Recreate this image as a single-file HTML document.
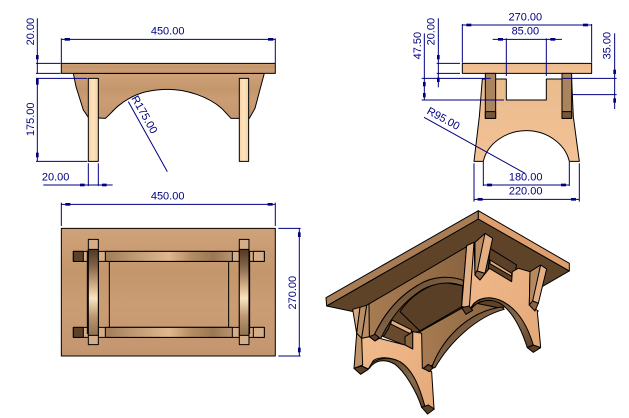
<!DOCTYPE html>
<html><head><meta charset="utf-8"><style>
html,body{margin:0;padding:0;background:#fff;width:629px;height:418px;overflow:hidden}
svg{display:block}
text{font-family:"Liberation Sans",sans-serif;font-size:33px;fill:#000080;text-anchor:middle}
.d line{stroke:#000080;stroke-width:3}
.d rect{fill:#000080}
.k *{stroke:#000;stroke-width:3;stroke-linejoin:round}
</style></head><body>
<svg width="629" height="418" viewBox="0 0 629 418" xmlns="http://www.w3.org/2000/svg">
<defs>
<linearGradient id="w1" x1="0" y1="0" x2="0" y2="1"><stop offset="0" stop-color="#d0a27a"/><stop offset=".35" stop-color="#c4966c"/><stop offset=".6" stop-color="#cb9d74"/><stop offset="1" stop-color="#c49670"/></linearGradient>
<linearGradient id="w2" x1="0" y1="0" x2="0" y2="1"><stop offset="0" stop-color="#e9bb8d"/><stop offset="1" stop-color="#f3c296"/></linearGradient>
<linearGradient id="leg" x1="0" y1="0" x2="1" y2="0"><stop offset="0" stop-color="#f6d3a6"/><stop offset=".5" stop-color="#ffe4bd"/><stop offset="1" stop-color="#f2cfa2"/></linearGradient>
<linearGradient id="v1" x1="0" y1="0" x2="0" y2="1"><stop offset="0" stop-color="#50381f"/><stop offset=".2" stop-color="#86654a"/><stop offset=".45" stop-color="#dcb990"/><stop offset=".57" stop-color="#fbe4c2"/><stop offset=".78" stop-color="#bc9670"/><stop offset="1" stop-color="#90704f"/></linearGradient>
<linearGradient id="h1" x1="0" y1="0" x2="1" y2="0"><stop offset="0" stop-color="#a07c58"/><stop offset=".2" stop-color="#bb9670"/><stop offset=".5" stop-color="#e0b88e"/><stop offset=".68" stop-color="#b48c62"/><stop offset=".85" stop-color="#9a7854"/><stop offset="1" stop-color="#b89270"/></linearGradient>
<linearGradient id="p1" x1="0" y1="0" x2="1" y2="1"><stop offset="0" stop-color="#f2bc8e"/><stop offset="1" stop-color="#e4a878"/></linearGradient>
<linearGradient id="b1" x1="0" y1="0" x2="1" y2="0"><stop offset="0" stop-color="#a87c52"/><stop offset="1" stop-color="#8a6440"/></linearGradient>
<linearGradient id="a1" x1="0" y1="0" x2="1" y2="1"><stop offset="0" stop-color="#5a3e24"/><stop offset=".6" stop-color="#8a6a4c"/><stop offset="1" stop-color="#5c4028"/></linearGradient>
</defs>

<!-- FRONT VIEW -->
<g transform="scale(.3333)">
<g class="k">
<path fill="url(#w1)" d="M220,220 L228,260 L250,330 L265,352 L316,355 C330,345 350,315 385,297 C420,275 460,268 505,268 C560,268 625,290 665,325 L693,355 L748,355 L765,325 L793,220 Z"/>
<rect x="184" y="190" width="642" height="30" fill="url(#w1)"/>
<rect x="265" y="235" width="30" height="249" fill="url(#leg)"/>
<rect x="718" y="235" width="28" height="249" fill="url(#leg)"/>
</g>
<g class="d">
<line x1="112" y1="55" x2="112" y2="220"/><line x1="112" y1="235" x2="112" y2="484"/>
<line x1="108" y1="190" x2="182" y2="190"/><line x1="108" y1="220" x2="182" y2="220"/>
<line x1="108" y1="235" x2="262" y2="235"/><line x1="108" y1="484" x2="262" y2="484"/>
<rect x="108" y="165" width="8" height="13"/><rect x="108" y="236" width="8" height="18"/><rect x="108" y="458" width="8" height="14"/>
<line x1="184" y1="118" x2="826" y2="118"/><line x1="184" y1="115" x2="184" y2="190"/><line x1="826" y1="115" x2="826" y2="190"/>
<rect x="194" y="114" width="16" height="8"/><rect x="804" y="114" width="16" height="8"/>
<line x1="130" y1="555" x2="338" y2="555"/><line x1="265" y1="490" x2="265" y2="558"/><line x1="295" y1="490" x2="295" y2="558"/>
<rect x="240" y="551" width="14" height="8"/><rect x="306" y="551" width="14" height="8"/>
<line x1="385" y1="305" x2="502" y2="515"/>
</g>
<text transform="translate(102,95) rotate(-90)">20.00</text>
<text transform="translate(102,358) rotate(-90)">175.00</text>
<text x="503" y="104">450.00</text>
<text x="167" y="541">20.00</text>
<text transform="translate(424,349) rotate(60.5)">R175.00</text>
</g>

<!-- SIDE VIEW -->
<g transform="translate(400,0) scale(.3333)">
<g class="k">
<path fill="url(#w2)" d="M247,237 L319,237 L319,300 L439,300 L439,237 L515,237 L520,350 L538,484 L508,484 C495,430 440,392 379,392 C318,392 262,430 250,484 L222,484 L238,350 Z"/>
<rect x="187" y="190" width="388" height="30" fill="url(#w2)"/>
<rect x="256" y="220" width="31" height="135" fill="#a9845f"/>
<rect x="256" y="335" width="31" height="20" fill="#7a5636"/>
<rect x="486" y="220" width="29" height="135" fill="#a9845f"/>
<rect x="486" y="335" width="29" height="20" fill="#7a5636"/>
</g>
<g class="d">
<line x1="187" y1="75" x2="575" y2="75"/><line x1="187" y1="72" x2="187" y2="188"/><line x1="575" y1="72" x2="575" y2="188"/>
<rect x="199" y="71" width="15" height="8"/><rect x="549" y="71" width="15" height="8"/>
<line x1="278" y1="118" x2="486" y2="118"/><line x1="319" y1="115" x2="319" y2="228"/><line x1="439" y1="115" x2="439" y2="228"/>
<rect x="294" y="114" width="15" height="8"/><rect x="451" y="114" width="15" height="8"/>
<line x1="115" y1="55" x2="115" y2="262"/><line x1="110" y1="190" x2="180" y2="190"/><line x1="110" y1="220" x2="180" y2="220"/>
<rect x="111" y="165" width="8" height="13"/><rect x="111" y="233" width="8" height="13"/>
<line x1="73" y1="100" x2="73" y2="300"/><line x1="65" y1="235" x2="272" y2="235"/><line x1="65" y1="300" x2="312" y2="300"/>
<rect x="69" y="246" width="8" height="13"/><rect x="69" y="279" width="8" height="13"/>
<line x1="644" y1="100" x2="644" y2="327"/><line x1="488" y1="235" x2="650" y2="235"/><line x1="516" y1="284" x2="650" y2="284"/>
<rect x="640" y="209" width="8" height="13"/><rect x="640" y="295" width="8" height="13"/>
<line x1="72" y1="352" x2="375" y2="520"/>
<line x1="250" y1="555" x2="508" y2="555"/><line x1="250" y1="485" x2="250" y2="558"/><line x1="508" y1="485" x2="508" y2="558"/>
<rect x="261" y="551" width="15" height="8"/><rect x="483" y="551" width="15" height="8"/>
<line x1="222" y1="598" x2="538" y2="598"/><line x1="222" y1="490" x2="222" y2="605"/><line x1="538" y1="490" x2="538" y2="605"/>
<rect x="233" y="594" width="15" height="8"/><rect x="513" y="594" width="15" height="8"/>
</g>
<text x="376" y="62">270.00</text>
<text x="376" y="104">85.00</text>
<text transform="translate(104,95) rotate(-90)">20.00</text>
<text transform="translate(63,137) rotate(-90)">47.50</text>
<text transform="translate(632,137) rotate(-90)">35.00</text>
<text transform="translate(125,365) rotate(28.5)">R95.00</text>
<text x="377" y="541">180.00</text>
<text x="377" y="583">220.00</text>
</g>

<!-- TOP VIEW -->
<g transform="translate(30,190) scale(.3333)">
<g class="k">
<rect x="94" y="115" width="642" height="383" fill="url(#w1)"/>
<rect x="238" y="214" width="358" height="198" fill="none"/>
<rect x="130" y="184" width="573" height="30" fill="#d3ae88"/>
<rect x="130" y="412" width="573" height="30" fill="#d3ae88"/>
<rect x="130" y="184" width="30" height="30" fill="#5c4229"/>
<rect x="130" y="412" width="30" height="30" fill="#5c4229"/>
<rect x="226" y="184" width="381" height="30" fill="url(#h1)"/>
<rect x="226" y="412" width="381" height="30" fill="url(#h1)"/>
<rect x="670" y="184" width="33" height="30" fill="#d3ae88"/>
<rect x="670" y="412" width="33" height="30" fill="#d3ae88"/>
<rect x="175" y="148" width="30" height="316" fill="#d3ae88"/>
<rect x="628" y="148" width="29" height="316" fill="#d3ae88"/>
<rect x="175" y="178" width="30" height="258" fill="url(#v1)"/>
<rect x="628" y="178" width="29" height="258" fill="url(#v1)"/>
<line x1="172" y1="182" x2="172" y2="432"/>
<line x1="659" y1="182" x2="659" y2="432"/>
</g>
<g class="d">
<line x1="94" y1="43" x2="736" y2="43"/><line x1="94" y1="38" x2="94" y2="108"/><line x1="736" y1="38" x2="736" y2="108"/>
<rect x="106" y="39" width="15" height="8"/><rect x="713" y="39" width="15" height="8"/>
<line x1="808" y1="115" x2="808" y2="498"/><line x1="745" y1="115" x2="812" y2="115"/><line x1="745" y1="498" x2="812" y2="498"/>
<rect x="804" y="127" width="8" height="14"/><rect x="804" y="473" width="8" height="14"/>
</g>
<text x="413" y="29">450.00</text>
<text transform="translate(798,308) rotate(-90)">270.00</text>
</g>

<!-- ISOMETRIC VIEW -->
<g transform="translate(320,205) scale(.3333)">
<g class="k">
<path fill="#5f4329" d="M20,303 L475,42 L748,198 L670,243 L545,310 L300,380 L140,400 L100,320 Z"/>
<!-- far long panel -->
<path fill="url(#b1)" d="M145,298 L440,125 L428,310 L430,232 C390,212 340,212 295,240 C235,275 190,330 160,395 L148,395 Z"/>
<!-- underside seen through far arch -->
<path fill="#5a3f27" d="M240,320 C270,275 320,240 370,232 L428,242 L425,305 L300,378 Z"/>
<path fill="url(#a1)" d="M160,395 C190,330 235,275 295,240 C340,212 390,212 430,226 L430,243 C390,228 345,232 305,255 C250,290 210,340 180,405 Z"/>
<!-- slot far -->
<path fill="#6a4a2e" d="M205,372 L215,345 L278,380 L278,430 L190,395 Z"/>
<path fill="#e0ae80" d="M215,345 L275,375 L272,387 L212,357 Z"/>
<!-- near long panel -->
<path fill="url(#b1)" d="M300,380 L425,310 L440,325 L470,295 L545,310 C450,330 370,400 338,480 L305,500 Z"/>
<path fill="url(#a1)" d="M335,490 C360,410 440,320 545,306 L553,313 C470,335 390,410 345,488 Z"/>
<!-- right end back slot -->
<path fill="#5c4028" d="M510,130 L590,180 L578,232 L505,195 Z"/>
<path fill="#dca878" d="M510,165 L575,205 L575,214 L510,176 Z"/>
<!-- right end panel -->
<path fill="url(#p1)" d="M462,112 L465,210 L480,225 L508,190 L575,230 L577,200 L595,190 L630,200 L628,300 L655,318 L652,320 L662,425 L640,438 C625,370 600,325 565,300 C530,275 490,270 462,295 L440,325 L425,310 L440,122 Z"/>
<path fill="url(#a1)" d="M452,315 C470,285 510,280 540,295 C580,320 605,375 622,428 L640,420 C625,370 600,325 565,300 C530,275 490,270 462,295 Z"/>
<!-- right end legs -->
<path fill="#e2b084" d="M440,122 L462,112 L448,308 L425,305 Z"/>
<path fill="#5c4028" d="M425,308 L447,303 L458,316 L438,328 Z"/>
<path fill="#b58a60" d="M495,85 L465,112 L465,210 L480,200 Z"/>
<path fill="#e2ae82" d="M495,85 L518,100 L495,205 L472,198 Z"/>
<path fill="#8a6440" d="M470,198 L495,205 L480,225 L465,210 Z"/>
<path fill="#b58a60" d="M662,180 L630,200 L628,300 L640,290 Z"/>
<path fill="#e2ae82" d="M662,180 L680,192 L655,295 L638,288 Z"/>
<path fill="#8a6440" d="M638,288 L655,295 L645,318 L628,300 Z"/>
<path fill="#5c4028" d="M622,428 L640,420 L662,428 L640,442 Z"/>
<!-- left arch underside -->
<path fill="url(#a1)" d="M148,490 C165,465 195,460 225,478 C255,500 290,560 305,607 L322,612 C310,555 280,495 240,470 C210,455 175,455 148,480 Z"/>
<!-- left end panel -->
<path fill="url(#p1)" d="M125,400 L148,395 L165,408 L178,400 L255,420 L278,432 L278,380 L305,385 L307,490 L335,500 L342,610 L322,627 L315,605 C300,550 280,495 240,470 C210,455 175,455 160,467 L145,492 L125,483 Z"/>
<!-- left notch -->
<path fill="#8a6440" d="M255,395 L278,380 L278,432 L255,420 Z"/>
<!-- left leg faces -->
<path fill="#d8a87c" d="M98,313 L120,307 L110,385 Z"/>
<path fill="#b98e66" d="M120,307 L140,301 L125,400 L110,385 Z"/>
<path fill="#b98e66" d="M140,301 L147,297 L148,395 L125,400 Z"/>
<path fill="#c2946a" d="M110,385 L125,400 L128,480 L102,490 Z"/>
<!-- caps -->
<path fill="#5c4028" d="M102,490 L125,483 L145,493 L122,508 Z"/>
<path fill="#5c4028" d="M305,607 L325,600 L343,612 L323,627 Z"/>
<path fill="#5c4028" d="M310,490 L325,478 L340,488 L328,500 Z"/>
<path fill="#5c4028" d="M148,395 L165,388 L178,398 L165,408 Z"/>
<!-- top edges -->
<path fill="#a87d55" d="M18,278 L475,17 L475,42 L20,303 Z"/>
<path fill="#de9f6e" d="M475,17 L748,175 L748,198 L475,42 Z"/>
</g>
</g>
</svg>
</body></html>
